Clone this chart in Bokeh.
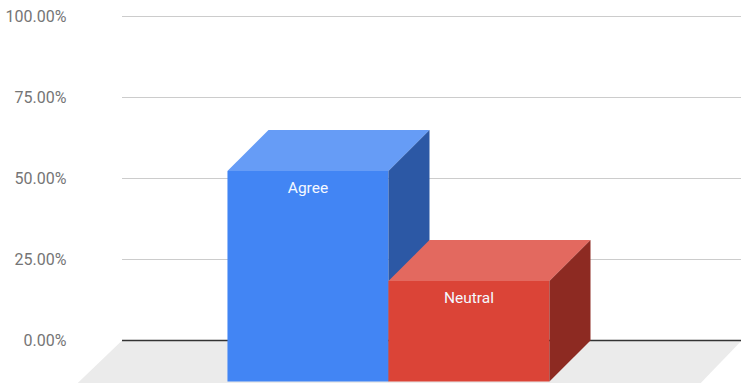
from bokeh.plotting import figure
from bokeh.models import Range1d, FixedTicker, NumeralTickFormatter
from bokeh.core.properties import value
from bokeh.embed import file_html
from bokeh.resources import INLINE

# ---- data ----
categories = ["Agree", "Neutral"]
values = [0.65, 0.31]
y_ticks = [0.0, 0.25, 0.50, 0.75, 1.0]

front_colors = ["#4285F4", "#DB4437"]
top_colors = ["#669CF6", "#E3695F"]
side_colors = ["#2C58A5", "#8D2A22"]

# ---- layout constants (data units) ----
DX = 0.255      # depth offset in x (bar-width units)
DY = 0.1265     # depth offset in y (fraction units)
FLOOR_L, FLOOR_R = -1.91, 1.94
X_START, X_END = -1.975, 2.193
Y_START, Y_END = -0.142, 1.0494

p = figure(width=741, height=386, output_backend="svg", toolbar_location=None,
           x_range=Range1d(X_START, X_END), y_range=Range1d(Y_START, Y_END),
           min_border_left=70, min_border_right=0, min_border_top=0, min_border_bottom=0)
p.outline_line_color = None
p.background_fill_color = "white"
p.xaxis.visible = False
p.xgrid.visible = False
p.ygrid.visible = False

ax = p.yaxis[0]
ax.ticker = FixedTicker(ticks=y_ticks)
ax.formatter = NumeralTickFormatter(format="0.00%")
ax.axis_line_color = None
ax.major_tick_line_color = None
ax.minor_tick_line_color = None
ax.major_tick_out = 0
ax.major_label_standoff = 4
ax.major_label_text_font = "Roboto"
ax.major_label_text_font_size = "16px"
ax.major_label_text_color = "#757575"

# floor
p.patch(x=[FLOOR_L - 0.02, FLOOR_R, FLOOR_R + DX, FLOOR_L + DX],
        y=[-DY - 0.005, -DY - 0.005, 0, 0], fill_color="#EBEBEB", line_color=None)

# gridlines at the back plane
gl = [t for t in y_ticks if t > 0]
p.segment(x0=[FLOOR_L + DX] * len(gl), x1=[X_END] * len(gl), y0=gl, y1=gl,
          line_color="#CCCCCC", line_width=1)
p.segment(x0=[FLOOR_L + DX], x1=[X_END], y0=[0], y1=[0], line_color="#333333", line_width=1.3)

# bars
n = len(categories)
for i, (cat, v) in enumerate(zip(categories, values)):
    xc = i - (n - 1) / 2
    xl, xr = xc - 0.5, xc + 0.5
    t = v - DY
    # front
    p.quad(left=[xl], right=[xr], bottom=[-DY], top=[t],
           fill_color=front_colors[i], line_color=None)
    # top
    p.patch(x=[xl, xr, xr + DX, xl + DX], y=[t, t, v, v],
            fill_color=top_colors[i], line_color=None)
    # side
    p.patch(x=[xr, xr + DX, xr + DX, xr], y=[-DY, 0, v, t],
            fill_color=side_colors[i], line_color=None)
    p.text(x=[xc], y=[t], text=[cat], text_align="center", text_baseline="alphabetic",
           y_offset=17, text_font=value("Roboto"), text_font_size="15.5px",
           text_color="#F4F8FF")

open("out.html", "w").write(file_html(p, INLINE))
